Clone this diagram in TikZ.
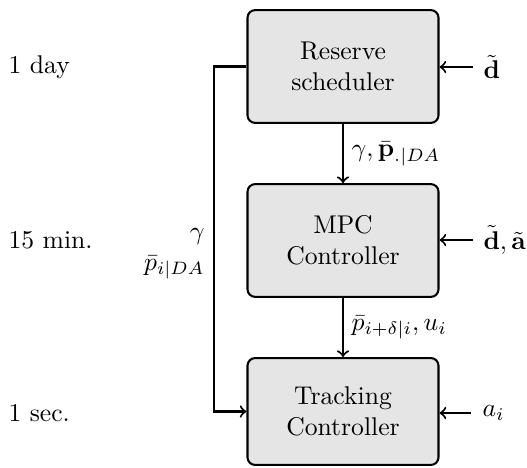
\documentclass[tikz,border=0pt]{standalone}
\usepackage{amsmath}
\begin{document}
\begin{tikzpicture}[x=0.39pt,y=-0.39pt,
  blk/.style={draw, thick, fill=gray!20, rounded corners=3pt, minimum width=74.5pt, align=center, inner sep=0pt},
  conn/.style={thick,->},
  lbl/.style={inner sep=0pt}]
\useasboundingbox (0,0) rectangle (527,467);
\node[blk, minimum height=44pt] (rs) at (343,66.5) {Reserve\\scheduler};
\node[blk, minimum height=44pt] (mpc) at (343,240.5) {MPC\\Controller};
\node[blk, minimum height=41.7pt] (tc) at (343,411.5) {Tracking\\Controller};
% time scale labels
\node[lbl, anchor=west] (t1) at (8,67) {1 day};
\node[lbl, anchor=west] (t2) at (8,240) {15 min.};
\node[lbl, anchor=west] (t3) at (8,413) {1 sec.};
% vertical connections
\draw[conn] (rs.south) -- node[lbl, anchor=west, xshift=3pt] (l1) {$\gamma, \bar{\mathbf{p}}_{.|DA}$} (mpc.north);
\draw[conn] (mpc.south) -- node[lbl, anchor=west, xshift=3pt] (l2) {$\bar{p}_{i+\delta|i}, u_i$} (tc.north);
% feedback path
\coordinate (fb) at (214,0);
\draw[conn] (rs.west) -- (rs.west -| fb) -- (tc.west -| fb) -- (tc.west);
\node[lbl, anchor=east, align=right] (l3) at (205,254) {$\gamma$\\$\bar{p}_{i|DA}$};
% external inputs
\node[lbl, anchor=west] (d1) at (483,67) {$\tilde{\mathbf{d}}$};
\node[lbl, anchor=west] (d2) at (483,240) {$\tilde{\mathbf{d}}, \tilde{\mathbf{a}}$};
\node[lbl, anchor=west] (d3) at (482,413) {$a_i$};
\coordinate (e1) at (473,67);
\coordinate (e2) at (473,240);
\coordinate (e3) at (471,413);
\draw[conn] (e1) -- (e1 -| rs.east);
\draw[conn] (e2) -- (e2 -| mpc.east);
\draw[conn] (e3) -- (e3 -| tc.east);
\end{tikzpicture}
\end{document}
